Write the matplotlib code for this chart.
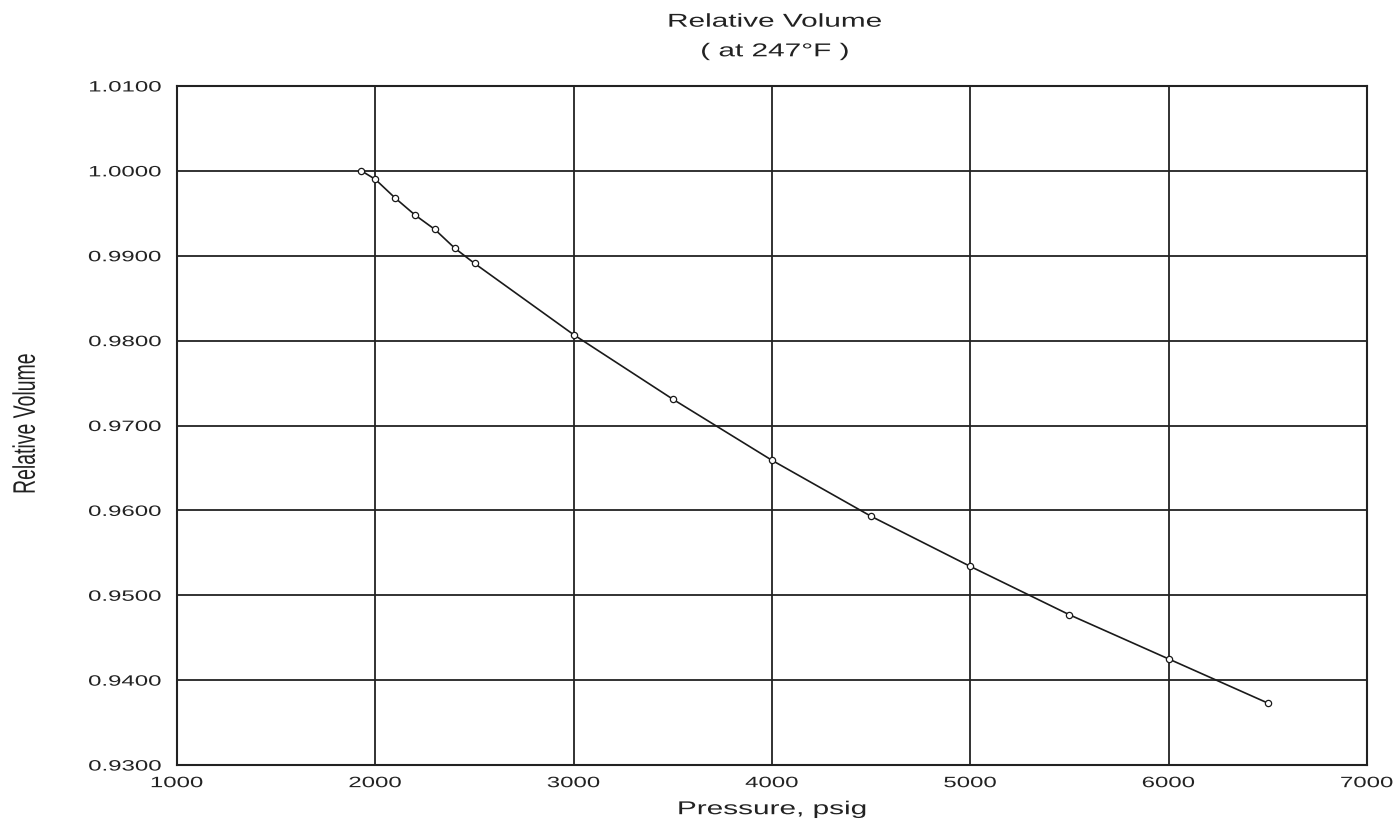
import matplotlib
matplotlib.use("Agg")
import matplotlib.pyplot as plt
from matplotlib.ticker import FixedLocator, FormatStrFormatter
from matplotlib.patheffects import AbstractPathEffect
from matplotlib.transforms import Affine2D

pressure = [1930, 2000, 2100, 2200, 2300, 2400, 2500, 3000, 3500, 4000, 4500, 5000, 5500, 6000, 6500]
rel_volume = [1.0000, 0.9990, 0.9968, 0.9948, 0.9931, 0.9909, 0.9891,
              0.9807, 0.9731, 0.9659, 0.9593, 0.9534, 0.9477, 0.9425, 0.9373]
x_ticks = [1000, 2000, 3000, 4000, 5000, 6000, 7000]
y_ticks = [0.93, 0.94, 0.95, 0.96, 0.97, 0.98, 0.99, 1.00, 1.01]

plt.rcParams['font.family'] = ['Liberation Sans', 'DejaVu Sans']


class HStretch(AbstractPathEffect):
    """Stretch rendered text horizontally (the scanned source is widened)."""
    def __init__(self, sx=1.6, anchor='center'):
        super().__init__()
        self.sx = sx
        self.anchor = anchor

    def draw_path(self, renderer, gc, tpath, affine, rgbFace=None):
        ext = tpath.get_extents(affine)
        if self.anchor == 'right':
            cx = ext.x1
        elif self.anchor == 'left':
            cx = ext.x0
        else:
            cx = 0.5 * (ext.x0 + ext.x1)
        new = affine + Affine2D().translate(-cx, 0).scale(self.sx, 1.0).translate(cx, 0)
        renderer.draw_path(gc, tpath, new, rgbFace)


SX = 1.6
ink = '#222222'

fig = plt.figure(figsize=(13.96, 8.22), dpi=100)
ax = fig.add_axes([0.1268, 0.0693, 0.8524, 0.8261])

ax.plot(pressure, rel_volume, color='#1a1a1a', linewidth=1.2,
        marker='o', markersize=4.5, markerfacecolor='white',
        markeredgecolor='#1a1a1a', markeredgewidth=0.9)

ax.set_xlim(1000, 7000)
ax.set_ylim(0.93, 1.01)
ax.xaxis.set_major_locator(FixedLocator(x_ticks))
ax.yaxis.set_major_locator(FixedLocator(y_ticks))
ax.yaxis.set_major_formatter(FormatStrFormatter('%.4f'))
ax.xaxis.set_major_formatter(FormatStrFormatter('%d'))
ax.grid(True, color=ink, linewidth=1.3)
ax.set_axisbelow(True)
ax.tick_params(axis='both', length=0, labelsize=10.8, colors=ink)
ax.tick_params(axis='y', pad=11)
ax.tick_params(axis='x', pad=8)
for s in ax.spines.values():
    s.set_color(ink)
    s.set_linewidth(1.5)

texts = []
texts.append(fig.text(0.555, 0.973, 'Relative Volume', ha='center', va='center', fontsize=13.4, color=ink))
texts.append(fig.text(0.555, 0.937, '( at 247°F )', ha='center', va='center', fontsize=13.4, color=ink))
texts.append(fig.text(0.553, 0.015, 'Pressure, psig', ha='center', va='center', fontsize=13.4, color=ink))
texts.append(fig.text(0.0187, 0.485, 'Relative Volume', ha='center', va='center', rotation=90,
                      fontsize=14, color=ink))
for t in texts:
    t.set_path_effects([HStretch(SX, 'center')])

fig.canvas.draw()
for lbl in ax.get_yticklabels():
    lbl.set_path_effects([HStretch(SX, 'right')])
for lbl in ax.get_xticklabels():
    lbl.set_path_effects([HStretch(SX, 'center')])

fig.savefig('out.png', dpi=100)
